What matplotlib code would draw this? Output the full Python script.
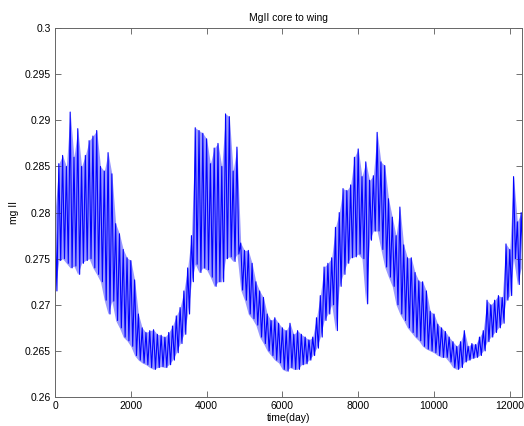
import numpy as np
import matplotlib
matplotlib.use("Agg")
import matplotlib.pyplot as plt


# MgII core-to-wing index, read every 100 days: top and bottom of the daily scatter
DAYS = list(range(0, 12301, 100))

UPPER = [
    0.2800, 0.2853, 0.2862, 0.2850, 0.2909, 0.2860, 0.2891, 0.2850, 0.2862, 0.2878,
    0.2883, 0.2889, 0.2850, 0.2845, 0.2865, 0.2842, 0.2788, 0.2777, 0.2760, 0.2751,
    0.2748, 0.2727, 0.2690, 0.2675, 0.2670, 0.2672, 0.2673, 0.2668, 0.2667, 0.2665,
    0.2670, 0.2677, 0.2688, 0.2697, 0.2715, 0.2740, 0.2775, 0.2892, 0.2889, 0.2886,
    0.2880, 0.2853, 0.2870, 0.2875, 0.2850, 0.2907, 0.2904, 0.2845, 0.2871, 0.2767,
    0.2759, 0.2759, 0.2745, 0.2725, 0.2715, 0.2708, 0.2690, 0.2683, 0.2686, 0.2680,
    0.2675, 0.2672, 0.2680, 0.2668, 0.2672, 0.2668, 0.2665, 0.2662, 0.2665, 0.2686,
    0.2710, 0.2741, 0.2745, 0.2751, 0.2784, 0.2800, 0.2826, 0.2824, 0.2830, 0.2860,
    0.2869, 0.2839, 0.2855, 0.2835, 0.2840, 0.2887, 0.2855, 0.2851, 0.2815, 0.2795,
    0.2775, 0.2806, 0.2765, 0.2751, 0.2751, 0.2735, 0.2726, 0.2725, 0.2715, 0.2693,
    0.2690, 0.2679, 0.2675, 0.2671, 0.2665, 0.2660, 0.2655, 0.2660, 0.2672, 0.2655,
    0.2658, 0.2657, 0.2665, 0.2672, 0.2705, 0.2700, 0.2705, 0.2710, 0.2708, 0.2766,
    0.2760, 0.2839, 0.2790, 0.2800,
]

LOWER = [
    0.2715, 0.2748, 0.2750, 0.2745, 0.2740, 0.2742, 0.2733, 0.2745, 0.2748, 0.2750,
    0.2740, 0.2733, 0.2725, 0.2705, 0.2690, 0.2704, 0.2683, 0.2675, 0.2665, 0.2661,
    0.2655, 0.2645, 0.2640, 0.2637, 0.2635, 0.2632, 0.2630, 0.2632, 0.2633, 0.2632,
    0.2635, 0.2640, 0.2648, 0.2658, 0.2668, 0.2690, 0.2725, 0.2744, 0.2735, 0.2740,
    0.2738, 0.2730, 0.2720, 0.2725, 0.2725, 0.2750, 0.2752, 0.2747, 0.2755, 0.2716,
    0.2705, 0.2690, 0.2685, 0.2678, 0.2665, 0.2658, 0.2650, 0.2645, 0.2640, 0.2637,
    0.2630, 0.2628, 0.2632, 0.2630, 0.2630, 0.2635, 0.2636, 0.2640, 0.2645, 0.2653,
    0.2665, 0.2683, 0.2690, 0.2700, 0.2672, 0.2720, 0.2733, 0.2745, 0.2751, 0.2752,
    0.2755, 0.2750, 0.2701, 0.2770, 0.2780, 0.2780, 0.2760, 0.2741, 0.2730, 0.2720,
    0.2700, 0.2690, 0.2683, 0.2675, 0.2670, 0.2665, 0.2661, 0.2655, 0.2652, 0.2650,
    0.2648, 0.2645, 0.2643, 0.2643, 0.2638, 0.2632, 0.2630, 0.2632, 0.2638, 0.2640,
    0.2642, 0.2643, 0.2645, 0.2650, 0.2660, 0.2665, 0.2670, 0.2675, 0.2680, 0.2705,
    0.2710, 0.2750, 0.2722, 0.2740,
]

X_TICKS = [0, 2000, 4000, 6000, 8000, 10000, 12000]
Y_TICKS = [0.26, 0.265, 0.27, 0.275, 0.28, 0.285, 0.29, 0.295, 0.3]


def build_series():
    # top of the scatter on each grid day, bottom half a step later
    t = []
    v = []
    for d, hi, lo in zip(DAYS, UPPER, LOWER):
        t.append(d)
        v.append(hi)
        t.append(d + 50)
        v.append(lo)
    return np.array(t), np.array(v)


def main():
    plt.rcParams['font.family'] = ['Liberation Sans', 'DejaVu Sans']

    t, v = build_series()

    fig = plt.figure(figsize=(5.24, 4.26), dpi=100)
    ax = fig.add_axes([0.105, 0.068, 0.891, 0.866])

    # faint spread of the daily values, trace on top
    ax.fill_between(DAYS, LOWER, UPPER, color=(0, 0, 1), alpha=0.4,
                    linewidth=0)
    ax.plot(t, v, color=(0, 0, 1), linewidth=0.8)

    ax.set_xlim(0, 12320)
    ax.set_ylim(0.26, 0.3)
    ax.set_xticks(X_TICKS)
    ax.set_xticklabels([str(x) for x in X_TICKS])
    ax.set_yticks(Y_TICKS)
    ax.set_yticklabels(['0.26', '0.265', '0.27', '0.275', '0.28',
                        '0.285', '0.29', '0.295', '0.3'])

    ax.tick_params(direction='in', top=True, right=True, length=4,
                   width=0.6, color='0.35', labelsize=7.5, pad=3)
    for s in ax.spines.values():
        s.set_color('0.4')
        s.set_linewidth(0.7)

    ax.set_title('MgII core to wing', fontsize=7.5, pad=5)
    ax.set_xlabel('time(day)', fontsize=7.5, labelpad=1)
    ax.set_ylabel('mg II', fontsize=7.5, labelpad=4)

    fig.savefig('out.png', dpi=100)
    plt.close(fig)


if __name__ == "__main__":
    main()
